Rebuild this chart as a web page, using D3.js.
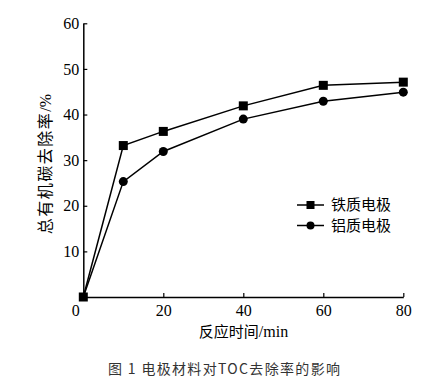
<!DOCTYPE html>
<html><head><meta charset="utf-8">
<script src="https://cdn.jsdelivr.net/npm/d3@7"></script>
<style>body{margin:0;background:#fff}svg{display:block}</style>
</head><body>
<svg id="c" width="448" height="391"></svg>
<script>
const times = [0, 10, 20, 40, 60, 80];
const feValues = [0, 33.2, 36.3, 41.9, 46.4, 47.1];
const alValues = [0, 25.3, 31.9, 39.0, 42.9, 44.9];
const seriesNames = ["铁质电极", "铝质电极"];
const xTicks = [0, 20, 40, 60, 80];
const yTicks = [10, 20, 30, 40, 50, 60];
const xLabel = ["反应时间", "/min"];
const yLabel = ["总有机碳去除率", "/%"];
const caption = "图 1 电极材料对TOC去除率的影响";

const svg = d3.select("#c");
const x = d3.scaleLinear().domain([0, 80]).range([83.3, 403.3]);
const y = d3.scaleLinear().domain([0, 60]).range([297, 23.3]);
const serif = "'Liberation Serif','DejaVu Serif',serif";
const cjk = "'Noto Sans CJK SC',sans-serif";

const xa = svg.append("g").attr("transform", `translate(0,${y(0)})`)
  .call(d3.axisBottom(x).tickValues(xTicks).tickSizeInner(-4).tickSizeOuter(0).tickPadding(8));
xa.attr("font-family", null);
xa.selectAll("text").style("font-family", serif).style("font-size", "16px").attr("fill", "#000")
  .attr("dx", d => d === 0 ? -8 : 0);
xa.selectAll(".tick line").filter(d => d === 0).remove();
const ya = svg.append("g").attr("transform", `translate(${x(0)},0)`)
  .call(d3.axisLeft(y).tickValues(yTicks).tickSizeInner(-4).tickSizeOuter(0).tickPadding(4));
ya.attr("font-family", null);
ya.selectAll("text").style("font-family", serif).style("font-size", "16px").attr("fill", "#000");
svg.selectAll(".domain").attr("stroke", "#000").attr("stroke-width", 1.5);
svg.selectAll(".tick line").attr("stroke", "#000").attr("stroke-width", 1.2);

const line = d3.line().x((d, i) => x(times[i])).y(d => y(d));
[feValues, alValues].forEach(vals => {
  svg.append("path").datum(vals).attr("d", line).attr("fill", "none")
    .attr("stroke", "#000").attr("stroke-width", 1.5);
});
svg.append("g").selectAll("rect").data(feValues).join("rect")
  .attr("x", (d, i) => x(times[i]) - 4.5).attr("y", d => y(d) - 4.5)
  .attr("width", 9).attr("height", 9).attr("fill", "#000");
svg.append("g").selectAll("circle").data(alValues.slice(1)).join("circle")
  .attr("cx", (d, i) => x(times[i + 1])).attr("cy", d => y(d)).attr("r", 4.5).attr("fill", "#000");

// legend
const lg = svg.append("g");
[205, 225.5].forEach((ly, i) => {
  lg.append("line").attr("x1", 297).attr("x2", 324).attr("y1", ly).attr("y2", ly)
    .attr("stroke", "#000").attr("stroke-width", 1.5);
  if (i === 0) lg.append("rect").attr("x", 306.5).attr("y", ly - 4).attr("width", 8).attr("height", 8);
  else lg.append("circle").attr("cx", 310.5).attr("cy", ly).attr("r", 4);
  lg.append("text").attr("x", 331).attr("y", ly).attr("dy", "0.35em")
    .style("font-family", cjk).style("font-size", "15px").text(seriesNames[i]);
});

const xt = svg.append("text").attr("x", 243.5).attr("y", 332).attr("dy", "0.35em").attr("text-anchor", "middle")
  .style("font-size", "15px");
xt.append("tspan").style("font-family", cjk).text(xLabel[0]);
xt.append("tspan").style("font-family", serif).style("font-size", "16px").text(xLabel[1]);

const yt = svg.append("text").attr("transform", "translate(45,164) rotate(-90)").attr("dy", "0.35em")
  .attr("text-anchor", "middle").style("font-size", "16px");
yt.append("tspan").style("font-family", cjk).attr("letter-spacing", 1.5).text(yLabel[0]);
yt.append("tspan").style("font-family", serif).text(yLabel[1]);

svg.append("text").attr("x", 224).attr("y", 369).attr("dy", "0.35em").attr("text-anchor", "middle")
  .style("font-family", cjk).style("font-size", "14px").attr("fill", "#333")
  .attr("textLength", 232).attr("lengthAdjust", "spacing").text(caption);
</script>
</body></html>
